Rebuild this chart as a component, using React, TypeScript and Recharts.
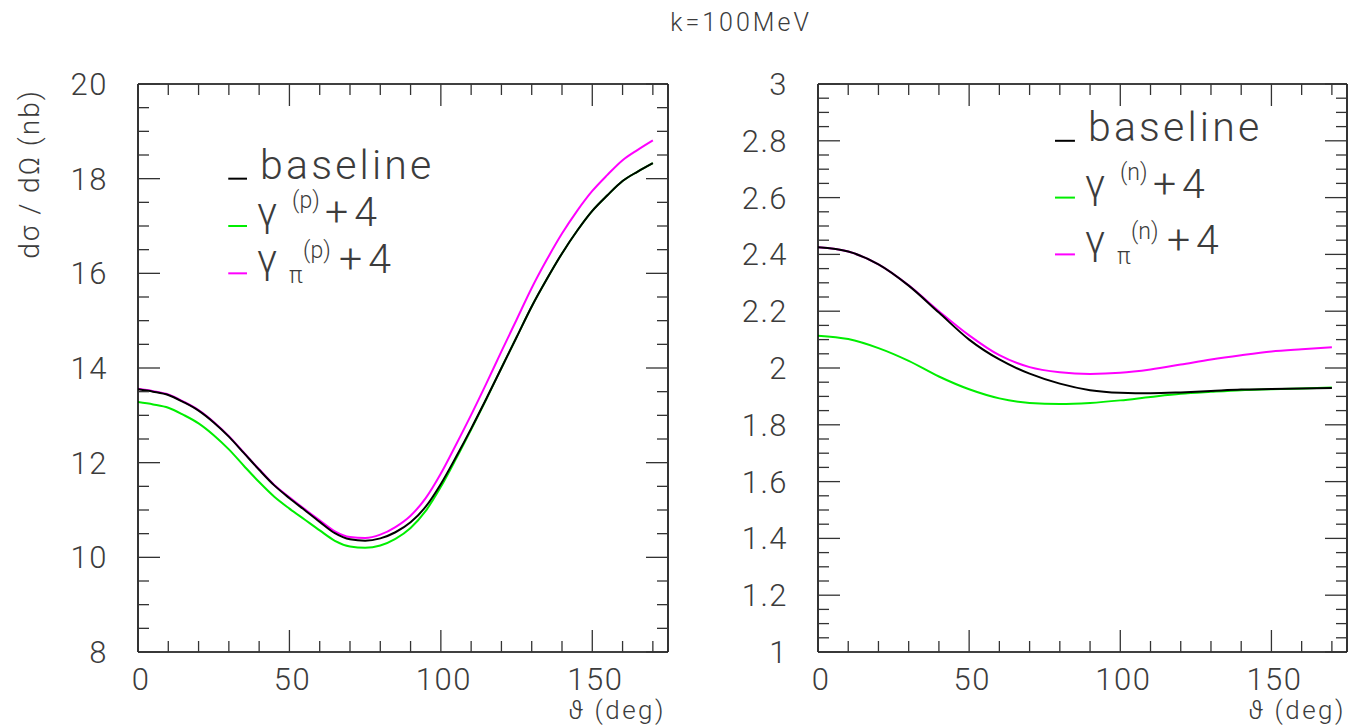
import React from 'react';
import { LineChart, Line, XAxis, YAxis, ReferenceLine, ReferenceDot } from 'recharts';

// ---------- data ----------
const thetaProton = [0, 5, 10, 15, 20, 25, 30, 35, 40, 45, 50, 55, 60, 65, 70, 75, 80, 85, 90, 95, 100, 105, 110, 115, 120, 125, 130, 135, 140, 145, 150, 155, 160, 165, 170];
const protonBaseline = [13.55, 13.5, 13.43, 13.28, 13.1, 12.85, 12.55, 12.2, 11.85, 11.52, 11.25, 11.0, 10.75, 10.51, 10.38, 10.35, 10.4, 10.53, 10.74, 11.07, 11.55, 12.12, 12.72, 13.35, 14.0, 14.65, 15.3, 15.88, 16.42, 16.9, 17.32, 17.65, 17.95, 18.15, 18.33];
const protonGamma = [13.28, 13.23, 13.16, 13.01, 12.83, 12.58, 12.28, 11.93, 11.59, 11.28, 11.03, 10.8, 10.57, 10.35, 10.23, 10.2, 10.25, 10.39, 10.62, 10.98, 11.49, 12.08, 12.7, 13.34, 14.0, 14.65, 15.3, 15.88, 16.42, 16.9, 17.32, 17.65, 17.95, 18.15, 18.33];
const protonGammaPi = [13.56, 13.51, 13.44, 13.29, 13.11, 12.86, 12.56, 12.21, 11.86, 11.53, 11.27, 11.02, 10.78, 10.55, 10.43, 10.41, 10.48, 10.64, 10.88, 11.25, 11.77, 12.38, 13.01, 13.67, 14.35, 15.02, 15.69, 16.29, 16.84, 17.32, 17.74, 18.08, 18.39, 18.61, 18.81];

const thetaNeutron = [0, 10, 20, 30, 40, 50, 60, 70, 80, 90, 100, 110, 120, 130, 140, 150, 160, 170];
const neutronBaseline = [2.425, 2.41, 2.365, 2.29, 2.195, 2.1, 2.03, 1.98, 1.945, 1.922, 1.913, 1.911, 1.914, 1.919, 1.924, 1.926, 1.928, 1.93];
const neutronGamma = [2.114, 2.102, 2.07, 2.025, 1.97, 1.925, 1.893, 1.877, 1.873, 1.877, 1.886, 1.898, 1.909, 1.916, 1.922, 1.925, 1.928, 1.931];
const neutronGammaPi = [2.425, 2.41, 2.365, 2.291, 2.2, 2.115, 2.045, 2.003, 1.985, 1.979, 1.983, 1.995, 2.012, 2.03, 2.045, 2.058, 2.066, 2.073];

// ticks
const xMajorTicks = [0, 50, 100, 150];
const xAllTicks = [0, 10, 20, 30, 40, 50, 60, 70, 80, 90, 100, 110, 120, 130, 140, 150, 160, 170];
const leftYMajor = [8, 10, 12, 14, 16, 18, 20];
const leftYAll = [8, 8.5, 9, 9.5, 10, 10.5, 11, 11.5, 12, 12.5, 13, 13.5, 14, 14.5, 15, 15.5, 16, 16.5, 17, 17.5, 18, 18.5, 19, 19.5, 20];
const rightYMajor = [1, 1.2, 1.4, 1.6, 1.8, 2, 2.2, 2.4, 2.6, 2.8, 3];
const rightYAll = [1, 1.05, 1.1, 1.15, 1.2, 1.25, 1.3, 1.35, 1.4, 1.45, 1.5, 1.55, 1.6, 1.65, 1.7, 1.75, 1.8, 1.85, 1.9, 1.95, 2, 2.05, 2.1, 2.15, 2.2, 2.25, 2.3, 2.35, 2.4, 2.45, 2.5, 2.55, 2.6, 2.65, 2.7, 2.75, 2.8, 2.85, 2.9, 2.95, 3];

const titleText = 'k=100MeV';
const yTitle = 'dσ / dΩ (nb)';
const xTitle = 'ϑ (deg)';

const protonData = thetaProton.map((t, i) => ({ t, base: protonBaseline[i], g: protonGamma[i], gpi: protonGammaPi[i] }));
const neutronData = thetaNeutron.map((t, i) => ({ t, base: neutronBaseline[i], g: neutronGamma[i], gpi: neutronGammaPi[i] }));

// ---------- style ----------
const FONT = 'Roboto, "Liberation Sans", sans-serif';
const TXT = '#3c3c3c';
const TICKC = '#333';
const MAJ = 22;
const MIN = 11;
const isIn = (arr: number[], v: number) => arr.some((a) => Math.abs(a - v) < 1e-6);

const XTickBottom = (props: any) => {
  const { x, y, payload } = props;
  const major = isIn(xMajorTicks, payload.value);
  return (
    <g>
      <line x1={x} x2={x} y1={y} y2={y - (major ? MAJ : MIN)} stroke={TICKC} strokeWidth={1.3} />
      {major && (
        <text x={x + 3} y={y + 38} textAnchor="middle" fontFamily={FONT} fontWeight={300} fontSize={31} fill={TXT} letterSpacing={1.5}>
          {payload.value}
        </text>
      )}
    </g>
  );
};
const XTickTop = (props: any) => {
  const { x, y, payload } = props;
  const major = isIn(xMajorTicks, payload.value);
  return <line x1={x} x2={x} y1={y} y2={y + (major ? MAJ : MIN)} stroke={TICKC} strokeWidth={1.3} />;
};
const makeYTickLeft = (majors: number[]) => (props: any) => {
  const { x, y, payload } = props;
  const major = isIn(majors, payload.value);
  return (
    <g>
      <line x1={x} x2={x + (major ? MAJ : MIN)} y1={y} y2={y} stroke={TICKC} strokeWidth={1.3} />
      {major && (
        <text x={x - 30} y={y + 11} textAnchor="end" fontFamily={FONT} fontWeight={300} fontSize={31} fill={TXT} letterSpacing={1.5}>
          {String(payload.value)}
        </text>
      )}
    </g>
  );
};
const makeYTickRight = (majors: number[]) => (props: any) => {
  const { x, y, payload } = props;
  const major = isIn(majors, payload.value);
  return <line x1={x} x2={x - (major ? MAJ : MIN)} y1={y} y2={y} stroke={TICKC} strokeWidth={1.3} />;
};

const legendFont = { fontFamily: FONT, fontWeight: 300, fill: TXT } as const;

const BaselineLabel = (p: any) => (
  <text x={p.cx} y={p.cy} fontSize={41} letterSpacing={3.2} {...legendFont}>baseline</text>
);
const makeGammaLabel = (tag: string) => (p: any) => (
  <g>
    <text x={p.cx - 3} y={p.cy} fontSize={41} {...legendFont}>γ</text>
    <text x={p.cx + 32} y={p.cy - 18} fontSize={23} {...legendFont}>({tag})</text>
    <text x={p.cx + 65} y={p.cy} fontSize={41} letterSpacing={6} {...legendFont}>+4</text>
  </g>
);
const makeGammaPiLabel = (tag: string) => (p: any) => (
  <g>
    <text x={p.cx - 3} y={p.cy} fontSize={41} {...legendFont}>γ</text>
    <text x={p.cx + 29} y={p.cy + 10} fontSize={23} {...legendFont}>π</text>
    <text x={p.cx + 43} y={p.cy - 15} fontSize={23} {...legendFont}>({tag})</text>
    <text x={p.cx + 79} y={p.cy} fontSize={41} letterSpacing={6} {...legendFont}>+4</text>
  </g>
);

type PanelProps = {
  data: any[];
  left: number;
  width: number;
  margin: { top: number; right: number; bottom: number; left: number };
  yDomain: [number, number];
  yAll: number[];
  yMajor: number[];
  legendX: [number, number, number];
  legendY: [number, number, number];
  tag: string;
};

function Panel({ data, left, width, margin, yDomain, yAll, yMajor, legendX, legendY, tag }: PanelProps) {
  const ax = { xAxisId: 'b', yAxisId: 'l' };
  const seg = (yv: number) => [
    { x: legendX[0], y: yv },
    { x: legendX[1], y: yv },
  ];
  const frame = { stroke: '#000', strokeWidth: 1.6 };
  return (
    <div style={{ position: 'absolute', left, top: 0, width, height: 728 }}>
      <LineChart width={width} height={728} data={data} margin={margin}>
        <XAxis xAxisId="b" dataKey="t" type="number" domain={[0, 175]} ticks={xAllTicks} interval={0} height={1} tickSize={0} tickMargin={0} tickLine={false} axisLine={frame} tick={XTickBottom} allowDataOverflow />
        <XAxis xAxisId="t" orientation="top" dataKey="t" type="number" domain={[0, 175]} ticks={xAllTicks} interval={0} height={1} tickSize={0} tickMargin={0} tickLine={false} axisLine={frame} tick={XTickTop} allowDataOverflow />
        <YAxis yAxisId="l" type="number" domain={yDomain} ticks={yAll} interval={0} width={1} tickSize={0} tickMargin={0} tickLine={false} axisLine={frame} tick={makeYTickLeft(yMajor)} allowDataOverflow />
        <YAxis yAxisId="r" orientation="right" type="number" domain={yDomain} ticks={yAll} interval={0} width={1} tickSize={0} tickMargin={0} tickLine={false} axisLine={frame} tick={makeYTickRight(yMajor)} allowDataOverflow />
        <Line {...ax} dataKey="g" type="monotone" stroke="#00ee00" strokeWidth={2} dot={false} isAnimationActive={false} />
        <Line {...ax} dataKey="gpi" type="monotone" stroke="#ff00ff" strokeWidth={2} dot={false} isAnimationActive={false} />
        <Line {...ax} dataKey="base" type="monotone" stroke="#000000" strokeWidth={2} dot={false} isAnimationActive={false} />
        <ReferenceLine {...ax} segment={seg(legendY[0])} stroke="#000" strokeWidth={2} />
        <ReferenceLine {...ax} segment={seg(legendY[1])} stroke="#00ee00" strokeWidth={2} />
        <ReferenceLine {...ax} segment={seg(legendY[2])} stroke="#ff00ff" strokeWidth={2} />
        <ReferenceDot {...ax} x={legendX[2]} y={legendY[0]} r={0} shape={BaselineLabel} />
        <ReferenceDot {...ax} x={legendX[2]} y={legendY[1]} r={0} shape={makeGammaLabel(tag)} />
        <ReferenceDot {...ax} x={legendX[2]} y={legendY[2]} r={0} shape={makeGammaPiLabel(tag)} />
      </LineChart>
    </div>
  );
}

export default function App() {
  return (
    <div style={{ position: 'absolute', left: 0, top: 0, width: 1366, height: 728, background: '#fff', overflow: 'hidden' }}>
      <Panel
        data={protonData}
        left={0}
        width={700}
        margin={{ top: 83, right: 31, bottom: 75, left: 137 }}
        yDomain={[8, 20]}
        yAll={leftYAll}
        yMajor={leftYMajor}
        legendX={[29.8, 36, 40.3]}
        legendY={[18, 17, 16]}
        tag="p"
      />
      <Panel
        data={neutronData}
        left={700}
        width={666}
        margin={{ top: 83, right: 18, bottom: 75, left: 117 }}
        yDomain={[1, 3]}
        yAll={rightYAll}
        yMajor={rightYMajor}
        legendX={[78.4, 85, 89.3]}
        legendY={[2.8, 2.6, 2.4]}
        tag="n"
      />
      <svg width={1366} height={728} style={{ position: 'absolute', left: 0, top: 0, pointerEvents: 'none' }}>
        <text x={741} y={31} textAnchor="middle" fontFamily={FONT} fontWeight={300} fontSize={25} fill={TXT} letterSpacing={3}>{titleText}</text>
        <text x={39} y={174} transform="rotate(-90 39 174)" textAnchor="middle" fontFamily={FONT} fontWeight={300} fontSize={28} fill={TXT} letterSpacing={2}>{yTitle}</text>
        <text x={666} y={719} textAnchor="end" fontFamily={FONT} fontWeight={300} fontSize={26} fill={TXT} letterSpacing={2.5}>{xTitle}</text>
        <text x={1346} y={719} textAnchor="end" fontFamily={FONT} fontWeight={300} fontSize={26} fill={TXT} letterSpacing={2.5}>{xTitle}</text>
      </svg>
    </div>
  );
}
